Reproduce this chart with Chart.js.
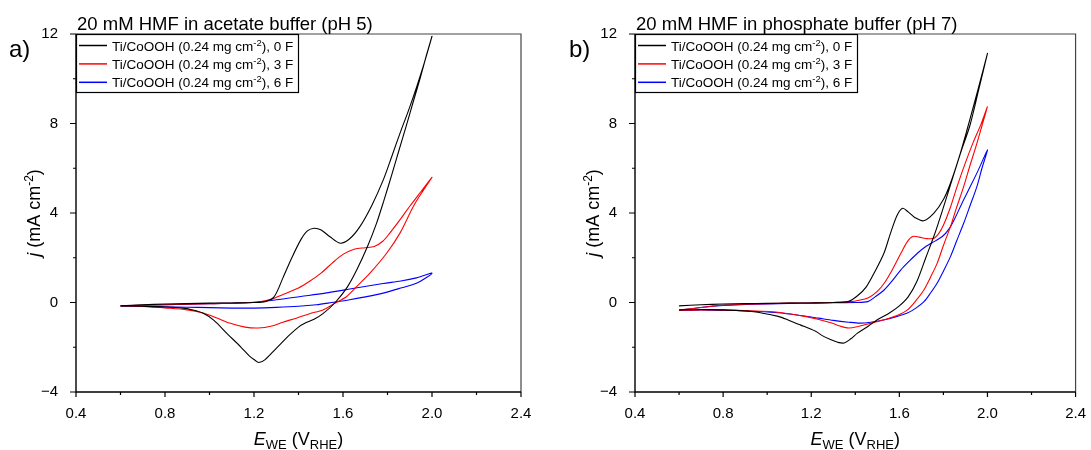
<!DOCTYPE html>
<html>
<head>
<meta charset="utf-8">
<script src="https://cdn.jsdelivr.net/npm/chart.js@4.4.1/dist/chart.umd.min.js"></script>
<style>
  html, body { margin: 0; padding: 0; background: #fff; }
  #wrap { position: relative; width: 1091px; height: 450px; background: #fff; }
  .panel { position: absolute; top: 0; height: 450px; }
</style>
</head>
<body>
<div id="wrap">
  <div class="panel" style="left:0;width:545px"><canvas id="c1" width="545" height="450"></canvas></div>
  <div class="panel" style="left:545px;width:546px"><canvas id="c2" width="546" height="450"></canvas></div>
</div>
<script>
// ---------- data: [E_WE (V_RHE), j (mA cm^-2)] ----------
const seriesLabels = [
  'Ti/CoOOH (0.24 mg cm^{-2}), 0 F',
  'Ti/CoOOH (0.24 mg cm^{-2}), 3 F',
  'Ti/CoOOH (0.24 mg cm^{-2}), 6 F'
];
const seriesColors = ['#000000', '#ff0000', '#0000ff'];
const panelTitles = ['20 mM HMF in acetate buffer (pH 5)', '20 mM HMF in phosphate buffer (pH 7)'];
const panelLetters = ['a)', 'b)'];
const xTickValues = [0.4, 0.8, 1.2, 1.6, 2.0, 2.4];
const yTickValues = [-4, 0, 4, 8, 12];

const acetate0F = [
  [0.60,-0.15],[0.70,-0.10],[0.80,-0.07],[0.90,-0.05],[1.00,-0.03],[1.10,-0.02],[1.20,0.00],[1.25,0.04],
  [1.29,0.25],[1.33,1.10],[1.37,2.00],[1.41,2.80],[1.44,3.20],[1.47,3.32],[1.50,3.25],[1.54,2.95],
  [1.587,2.65],[1.63,2.85],[1.676,3.39],[1.73,4.35],[1.781,5.48],[1.82,6.55],[1.856,7.56],[1.895,8.60],
  [1.931,9.64],[1.965,10.70],[2.00,11.90],
  [1.975,11.05],[1.946,10.00],[1.915,8.95],[1.883,7.85],[1.85,6.75],[1.819,5.70],[1.785,4.60],[1.751,3.55],
  [1.71,2.50],[1.662,1.46],[1.62,0.70],[1.565,0.00],[1.51,-0.50],[1.47,-0.75],[1.43,-0.92],[1.40,-1.10],
  [1.36,-1.45],[1.30,-2.05],[1.25,-2.55],[1.222,-2.68],[1.20,-2.55],[1.18,-2.40],[1.14,-1.98],[1.08,-1.40],
  [1.02,-0.80],[0.97,-0.47],[0.92,-0.32],[0.88,-0.25],[0.80,-0.20],[0.70,-0.17],[0.60,-0.15]
];
const acetate3F = [
  [0.60,-0.15],[0.80,-0.10],[1.00,-0.05],[1.15,-0.02],[1.22,0.02],[1.28,0.15],[1.33,0.36],[1.40,0.65],
  [1.45,0.95],[1.50,1.30],[1.55,1.75],[1.60,2.15],[1.65,2.38],[1.70,2.45],[1.74,2.50],[1.78,2.75],
  [1.81,3.10],[1.86,3.75],[1.90,4.30],[1.95,4.95],[2.00,5.60],
  [1.96,5.00],[1.916,4.29],[1.856,3.10],[1.796,2.20],[1.721,1.31],[1.66,0.70],[1.617,0.27],[1.56,-0.05],
  [1.51,-0.33],[1.45,-0.50],[1.39,-0.70],[1.33,-0.88],[1.28,-1.05],[1.22,-1.14],[1.16,-1.10],[1.09,-0.92],
  [1.03,-0.68],[0.97,-0.47],[0.90,-0.33],[0.81,-0.25],[0.70,-0.18],[0.60,-0.15]
];
const acetate6F = [
  [0.60,-0.15],[0.80,-0.10],[1.00,-0.05],[1.18,0.00],[1.30,0.12],[1.41,0.27],[1.52,0.42],[1.63,0.60],
  [1.78,0.85],[1.86,0.96],[1.93,1.10],[2.00,1.31],
  [1.93,0.86],[1.85,0.62],[1.78,0.42],[1.70,0.25],[1.63,0.12],[1.55,0.00],[1.48,-0.10],[1.40,-0.17],
  [1.30,-0.22],[1.20,-0.25],[1.10,-0.25],[1.00,-0.23],[0.90,-0.21],[0.80,-0.19],[0.70,-0.17],[0.60,-0.16]
];
const phosphate0F = [
  [0.60,-0.15],[0.70,-0.10],[0.80,-0.07],[0.90,-0.05],[1.00,-0.04],[1.10,-0.03],[1.20,-0.02],[1.30,0.00],
  [1.37,0.05],[1.41,0.30],[1.45,0.70],[1.49,1.40],[1.53,2.20],[1.56,3.10],[1.59,3.90],[1.615,4.21],
  [1.64,4.05],[1.67,3.80],[1.71,3.65],[1.757,3.99],[1.80,4.60],[1.832,5.33],[1.87,6.45],[1.907,7.71],
  [1.94,8.90],[1.97,10.00],[2.00,11.13],
  [1.96,9.50],[1.92,7.90],[1.88,6.75],[1.84,5.50],[1.80,4.25],[1.76,3.05],[1.72,2.00],[1.68,0.95],
  [1.64,0.25],[1.60,-0.15],[1.55,-0.50],[1.50,-0.77],[1.46,-1.05],[1.41,-1.37],[1.38,-1.62],[1.35,-1.81],
  [1.32,-1.78],[1.29,-1.67],[1.25,-1.48],[1.22,-1.29],[1.15,-1.00],[1.10,-0.80],[1.05,-0.62],[0.93,-0.40],
  [0.80,-0.33],[0.70,-0.31],[0.60,-0.33]
];
const phosphate3F = [
  [0.60,-0.35],[0.70,-0.22],[0.80,-0.12],[0.90,-0.08],[1.00,-0.05],[1.10,-0.03],[1.20,-0.02],[1.30,0.00],
  [1.38,0.04],[1.413,0.09],[1.457,0.20],[1.50,0.50],[1.532,0.87],[1.57,1.50],[1.607,2.20],[1.635,2.70],
  [1.66,2.95],[1.69,2.92],[1.72,2.86],[1.757,2.87],[1.78,3.10],[1.80,3.45],[1.83,4.20],[1.862,5.18],
  [1.90,6.25],[1.937,7.20],[1.97,7.95],[2.00,8.75],
  [1.975,7.90],[1.952,7.11],[1.92,6.10],[1.892,5.18],[1.86,4.25],[1.832,3.39],[1.80,2.55],[1.772,1.76],
  [1.74,1.10],[1.712,0.57],[1.675,0.08],[1.637,-0.33],[1.59,-0.58],[1.532,-0.77],[1.48,-0.90],[1.413,-1.07],
  [1.37,-1.14],[1.33,-1.05],[1.293,-0.92],[1.23,-0.75],[1.172,-0.62],[1.10,-0.50],[1.008,-0.40],[0.90,-0.36],
  [0.80,-0.34],[0.70,-0.33],[0.60,-0.35]
];
const phosphate6F = [
  [0.60,-0.35],[0.70,-0.22],[0.80,-0.13],[0.90,-0.09],[1.00,-0.06],[1.10,-0.04],[1.20,-0.03],[1.30,-0.01],
  [1.40,0.00],[1.457,0.04],[1.49,0.25],[1.532,0.57],[1.57,1.00],[1.607,1.46],[1.645,1.85],[1.682,2.20],
  [1.72,2.50],[1.757,2.72],[1.795,2.95],[1.825,3.28],[1.85,3.72],[1.885,4.45],[1.922,5.18],[1.96,5.95],
  [2.00,6.82],
  [1.975,6.00],[1.952,5.18],[1.92,4.30],[1.892,3.54],[1.86,2.75],[1.832,2.05],[1.80,1.40],[1.772,0.87],
  [1.74,0.40],[1.712,0.04],[1.675,-0.25],[1.637,-0.47],[1.59,-0.62],[1.532,-0.77],[1.47,-0.88],[1.42,-0.92],
  [1.37,-0.88],[1.30,-0.80],[1.233,-0.70],[1.15,-0.58],[1.05,-0.46],[0.95,-0.40],[0.85,-0.36],[0.70,-0.33],
  [0.60,-0.35]
];

// ---------- helpers ----------
const FONT = '"Liberation Sans", Arial, sans-serif';
function fnt(size, italic) { return (italic ? 'italic ' : '') + size + 'px ' + FONT; }

function parseRich(label, size, supSize) {
  const segs = [];
  const re = /\^\{(.*?)\}/g;
  let last = 0, m;
  while ((m = re.exec(label)) !== null) {
    if (m.index > last) segs.push({ t: label.slice(last, m.index), size: size });
    segs.push({ t: m[1], size: supSize, dy: -Math.round(size * 0.38) });
    last = m.index + m[0].length;
  }
  if (last < label.length) segs.push({ t: label.slice(last), size: size });
  return segs;
}
function richWidth(ctx, segs) {
  let w = 0;
  for (const s of segs) { ctx.font = fnt(s.size, s.italic); w += ctx.measureText(s.t).width; }
  return w;
}
function drawRich(ctx, segs, x, y, align) {
  const w = richWidth(ctx, segs);
  let cx = align === 'center' ? x - w / 2 : x;
  ctx.textAlign = 'left';
  ctx.textBaseline = 'alphabetic';
  for (const s of segs) {
    ctx.font = fnt(s.size, s.italic);
    ctx.fillText(s.t, cx, y + (s.dy || 0));
    cx += ctx.measureText(s.t).width;
  }
}

const decoPlugin = {
  id: 'deco',
  beforeDraw(chart) {
    const ctx = chart.ctx;
    ctx.save();
    ctx.fillStyle = '#fff';
    ctx.fillRect(0, 0, chart.width, chart.height);
    ctx.restore();
  },
  afterDraw(chart) {
    const o = chart.options.plugins.deco;
    const ctx = chart.ctx;
    const a = chart.chartArea;
    const xs = chart.scales.x, ys = chart.scales.y;
    ctx.save();
    // frame
    ctx.strokeStyle = '#444';
    ctx.lineWidth = 1.2;
    ctx.beginPath();
    ctx.moveTo(a.left, a.top); ctx.lineTo(a.right, a.top); ctx.lineTo(a.right, a.bottom);
    ctx.stroke();
    ctx.strokeStyle = '#000';
    ctx.lineWidth = 1.4;
    ctx.beginPath();
    ctx.moveTo(a.left, a.top); ctx.lineTo(a.left, a.bottom); ctx.lineTo(a.right, a.bottom);
    ctx.stroke();
    // ticks (major + minor), positions from the scales
    ctx.lineWidth = 1.2;
    ctx.strokeStyle = '#000';
    ctx.beginPath();
    for (const t of xs.ticks) {
      const px = xs.getPixelForValue(t.value);
      const major = xTickValues.some(v => Math.abs(v - t.value) < 1e-6);
      ctx.moveTo(px, a.bottom); ctx.lineTo(px, a.bottom + (major ? 5 : 3));
    }
    for (const t of ys.ticks) {
      const py = ys.getPixelForValue(t.value);
      const major = yTickValues.some(v => Math.abs(v - t.value) < 1e-6);
      ctx.moveTo(a.left, py); ctx.lineTo(a.left - (major ? 6 : 3), py);
    }
    ctx.stroke();
    ctx.fillStyle = '#000';
    // title
    ctx.font = fnt(o.titleSize);
    ctx.textAlign = 'left';
    ctx.textBaseline = 'alphabetic';
    ctx.fillText(o.title, a.left + 1, 30);
    // panel letter
    ctx.font = fnt(o.letterSize);
    ctx.fillText(o.letter, o.letterX, 57);
    // x axis title
    drawRich(ctx, [
      { t: 'E', size: 18, italic: true },
      { t: 'WE', size: 13, dy: 4 },
      { t: ' (V', size: 18 },
      { t: 'RHE', size: 13, dy: 4 },
      { t: ')', size: 18 }
    ], (a.left + a.right) / 2, 445, 'center');
    // y axis title (rotated)
    ctx.save();
    ctx.translate(a.left - 36, (a.top + a.bottom) / 2);
    ctx.rotate(-Math.PI / 2);
    drawRich(ctx, [
      { t: 'j', size: 18, italic: true },
      { t: ' (mA cm', size: 18 },
      { t: '-2', size: 12, dy: -7 },
      { t: ')', size: 18 }
    ], 0, 0, 'center');
    ctx.restore();
    // legend box
    const lx = a.left, ly = a.top;
    const lw = o.legendWidth, lh = 58;
    ctx.fillStyle = '#fff';
    ctx.fillRect(lx, ly, lw, lh);
    ctx.strokeStyle = '#000';
    ctx.lineWidth = 1.2;
    ctx.strokeRect(lx + 0.5, ly + 0.5, lw, lh);
    chart.data.datasets.forEach((ds, i) => {
      const rowY = ly + 11.5 + i * 18.4;
      ctx.strokeStyle = ds.borderColor;
      ctx.lineWidth = 1.5;
      ctx.beginPath();
      ctx.moveTo(lx + 3, rowY); ctx.lineTo(lx + 31, rowY);
      ctx.stroke();
      ctx.fillStyle = '#000';
      drawRich(ctx, parseRich(ds.label, o.legendSize, 9.5), lx + 36, rowY + 5, 'left');
    });
    ctx.restore();
  }
};

function makeChart(id, series, panel, cfg) {
  const datasets = series.map((pts, i) => ({
    label: seriesLabels[i],
    data: pts.map(p => ({ x: p[0], y: p[1] })),
    borderColor: seriesColors[i],
    backgroundColor: seriesColors[i],
    borderWidth: 1.1,
    pointRadius: 0,
    showLine: true,
    tension: 0.3,
    fill: false
  }));
  return new Chart(document.getElementById(id), {
    type: 'scatter',
    data: { datasets },
    options: {
      responsive: false,
      animation: false,
      devicePixelRatio: 1,
      layout: { padding: { left: 0, right: cfg.padRight, top: 34, bottom: 0 } },
      plugins: {
        legend: { display: false },
        tooltip: { enabled: false },
        deco: {
          title: panelTitles[panel], letter: panelLetters[panel], letterX: cfg.letterX,
          titleSize: 18.5, letterSize: 24, legendSize: 13.5, legendWidth: 222
        }
      },
      scales: {
        x: {
          type: 'linear', min: 0.4, max: 2.4,
          grid: { display: false }, border: { display: false },
          afterFit: s => { s.height = 58; },
          ticks: {
            stepSize: 0.2, autoSkip: false, maxRotation: 0, padding: 5,
            color: '#000', font: { family: FONT, size: 15 },
            callback: v => xTickValues.some(t => Math.abs(t - v) < 1e-6) ? v.toFixed(1) : ''
          }
        },
        y: {
          type: 'linear', min: -4, max: 12,
          grid: { display: false }, border: { display: false },
          afterFit: s => { s.width = cfg.plotLeft; },
          ticks: {
            stepSize: 2, autoSkip: false, padding: 10,
            color: '#000', font: { family: FONT, size: 15 },
            callback: v => yTickValues.includes(v) ? (v < 0 ? '\u2212' + Math.abs(v) : String(v)) : ''
          }
        }
      }
    },
    plugins: [decoPlugin]
  });
}

makeChart('c1', [acetate0F, acetate3F, acetate6F], 0, { plotLeft: 76, padRight: 24, letterX: 9 });
makeChart('c2', [phosphate0F, phosphate3F, phosphate6F], 1, { plotLeft: 90, padRight: 11, letterX: 24 });
</script>
</body>
</html>
